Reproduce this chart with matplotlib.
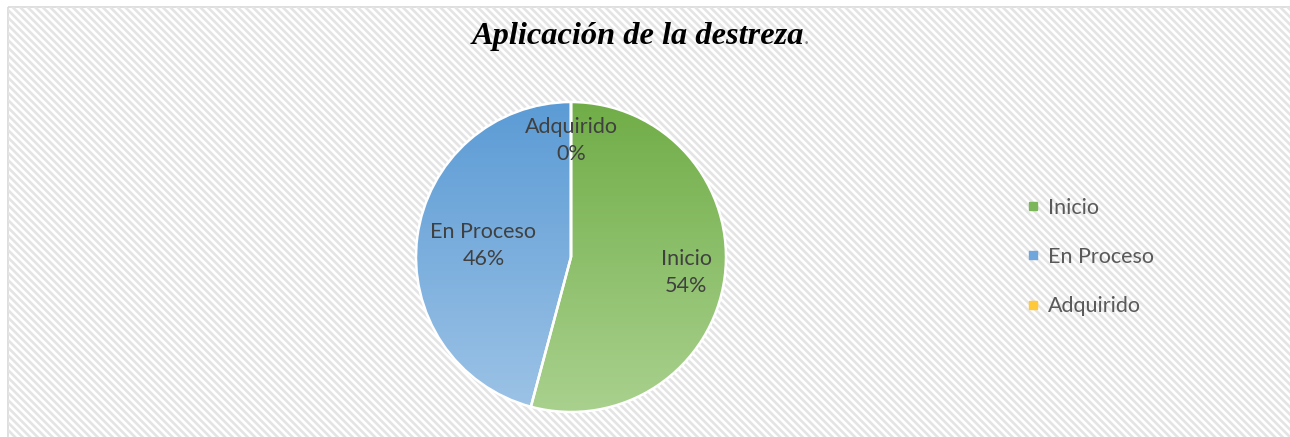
import numpy as np
import matplotlib
matplotlib.use("Agg")
import matplotlib.pyplot as plt
from matplotlib.collections import LineCollection
from matplotlib.colors import LinearSegmentedColormap
from matplotlib.lines import Line2D
from matplotlib.patches import Rectangle

# datos del gráfico
categorias = ["Inicio", "En Proceso", "Adquirido"]
valores = [13, 11, 0]
porcentajes = ["54%", "46%", "0%"]
titulo = "Aplicación de la destreza"

# colores (degradado de arriba hacia abajo)
color_arriba = ["#70AD47", "#5B9BD5", "#FFC000"]
color_abajo = ["#A9D18E", "#9DC3E6", "#FFD966"]
color_leyenda = ["#7CB65A", "#6FA6DC", "#FFC93A"]
dist_etiqueta = [0.75, 0.57, 0.75]

W, H = 1290, 437
fig = plt.figure(figsize=(W / 100, H / 100), dpi=100)
fig.patch.set_facecolor("white")

# ── fondo rayado (patrón diagonal) ───────────────────────────
bg = fig.add_axes([0, 0, 1, 1])
bg.set_xlim(0, W)
bg.set_ylim(H, 0)
bg.axis("off")
x0, y0 = 8, 7
paso = 7.5
segs = []
for c in np.arange(-H, W + H, paso):
    segs.append([(c, 0), (c + H + 20, H + 20)])
rayas = LineCollection(segs, colors="#e4e4e4", linewidths=1.9)
bg.add_collection(rayas)
marco = Rectangle((x0, y0), W + 60, H + 60, facecolor="none",
                  edgecolor="#d9d9d9", linewidth=1.2, clip_on=False)
bg.add_patch(marco)
rayas.set_clip_path(marco)

# ── pastel ───────────────────────────────────────────────────
cx, cy, r = 571, 257, 155
ax = fig.add_axes([(cx - r) / W, (H - cy - r) / H, 2 * r / W, 2 * r / H])
wedges, _ = ax.pie(valores, startangle=90, counterclock=False, radius=1,
                   wedgeprops=dict(edgecolor="white", linewidth=1.8))
grad = np.linspace(0, 1, 256).reshape(-1, 1)
for w, ca, cb in zip(wedges, color_arriba, color_abajo):
    cmap = LinearSegmentedColormap.from_list("g", [ca, cb])
    im = ax.imshow(grad, cmap=cmap, extent=(-1, 1, -1, 1), origin="upper",
                   aspect="auto", zorder=1)
    im.set_clip_path(w)
    w.set_facecolor("none")
    w.set_zorder(2)

for w, cat, pct, d in zip(wedges, categorias, porcentajes, dist_etiqueta):
    ang = np.deg2rad((w.theta1 + w.theta2) / 2)
    ax.text(d * np.cos(ang), d * np.sin(ang), f"{cat}\n{pct}", ha="center",
            va="center", fontsize=15.5, family="Lato", color="#404040",
            linespacing=1.45, zorder=3)
ax.set_xlim(-1, 1)
ax.set_ylim(-1, 1)
ax.axis("off")

# ── título ───────────────────────────────────────────────────
t = fig.text(638 / W, 1 - 44 / H, titulo, ha="center", va="baseline",
             family="Liberation Serif", fontsize=23.3, fontweight="bold",
             fontstyle="italic", color="black")
fig.canvas.draw()
bb = t.get_window_extent()
fig.text((bb.x1 - 1) / W, 1 - 44 / H, ".", ha="left", va="baseline",
         family="Liberation Serif", fontsize=15, color="#7f7f7f")

# ── leyenda ──────────────────────────────────────────────────
handles = [Line2D([], [], marker="s", linestyle="none", markersize=5.5,
                  markerfacecolor=c, markeredgecolor=c) for c in color_leyenda]
fig.legend(handles, categorias, loc="center left",
           bbox_to_anchor=(1007 / W, 1 - 257 / H), frameon=False,
           prop={"family": "Lato", "size": 15.5}, labelcolor="#595959",
           handlelength=0.6, handletextpad=0.4, labelspacing=1.37)

fig.savefig("out.png", dpi=100)
